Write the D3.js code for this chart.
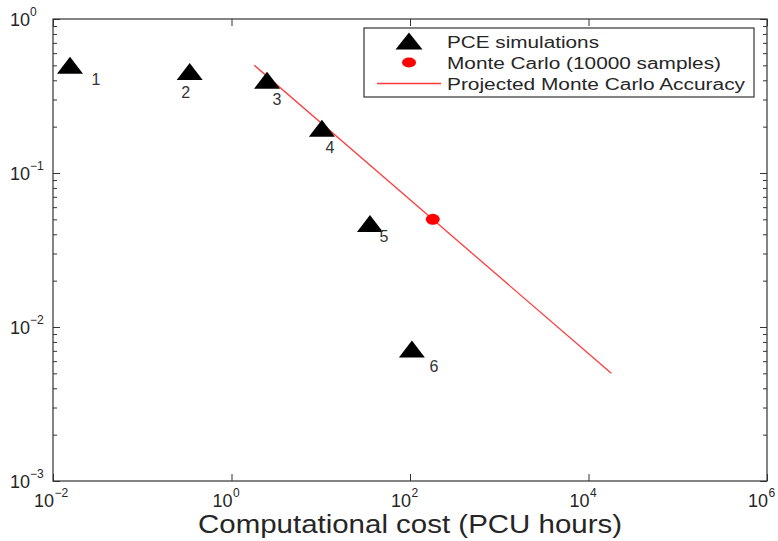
<!DOCTYPE html>
<html>
<head>
<meta charset="utf-8">
<script src="https://cdn.jsdelivr.net/npm/d3@7"></script>
<style>
  body { margin: 0; background: #fff; }
  svg { display: block; font-family: "Liberation Sans", Arial, Helvetica, sans-serif; }
</style>
</head>
<body>
<svg id="chart" width="778" height="541"></svg>
<script>
// PCE runs: cost (PCU hours) vs error
const pceLabels = ['1', '2', '3', '4', '5', '6'];
const pceCost = [0.0155, 0.34, 2.5, 10.3, 35.6, 105];
const pceError = [0.5, 0.456, 0.40, 0.195, 0.047, 0.0072];

// Monte Carlo reference point (10000 samples)
const mcCost = [180];
const mcError = [0.05];

// projected MC accuracy line end points
const projCost = [1.8, 18000];
const projError = [0.5, 0.005];

const xTicks = [1e-2, 1e0, 1e2, 1e4, 1e6];
const xTickExp = ['-2', '0', '2', '4', '6'];
const yTicks = [1e-3, 1e-2, 1e-1, 1e0];
const yTickExp = ['-3', '-2', '-1', '0'];

const legendLabels = ['PCE simulations', 'Monte Carlo (10000 samples)', 'Projected Monte Carlo Accuracy'];
const xTitle = 'Computational cost (PCU hours)';

const margin = {top: 19, right: 11, bottom: 60, left: 53};
const W = 778, H = 541;
const ink = '#262626';

const svg = d3.select('#chart');

const x = d3.scaleLog().domain([1e-2, 1e6]).range([margin.left, W - margin.right]);
const y = d3.scaleLog().domain([1e-3, 1]).range([H - margin.bottom, margin.top]);

// frame
svg.append('rect')
  .attr('x', x.range()[0]).attr('y', y.range()[1])
  .attr('width', x.range()[1] - x.range()[0])
  .attr('height', y.range()[0] - y.range()[1])
  .attr('fill', 'none').attr('stroke', '#333').attr('stroke-width', 1.2);

// ticks, all inward like matlab
const minorY = y.ticks().filter(v => yTicks.indexOf(v) < 0);
function tickAxis(axis, tr) {
  const g = svg.append('g').attr('transform', tr).call(axis);
  g.select('.domain').remove();
  g.selectAll('text').remove();
  g.selectAll('line').attr('stroke', '#333');
  return g;
}
tickAxis(d3.axisBottom(x).tickValues(xTicks).tickSize(-7), `translate(0,${y.range()[0]})`);
tickAxis(d3.axisTop(x).tickValues(xTicks).tickSize(-7), `translate(0,${y.range()[1]})`);
tickAxis(d3.axisLeft(y).tickValues(yTicks).tickSize(-7), `translate(${x.range()[0]},0)`);
tickAxis(d3.axisRight(y).tickValues(yTicks).tickSize(-7), `translate(${x.range()[1]},0)`);
tickAxis(d3.axisLeft(y).tickValues(minorY).tickSize(-4), `translate(${x.range()[0]},0)`);
tickAxis(d3.axisRight(y).tickValues(minorY).tickSize(-4), `translate(${x.range()[1]},0)`);

// tick labels with superscripts ("10" ends at the tick, exponent after it)
xTicks.forEach((v, i) => {
  const base = y.range()[0] + 26;
  svg.append('text')
    .attr('x', x(v) + 1).attr('y', base)
    .attr('text-anchor', 'end').attr('fill', ink).attr('font-size', 18)
    .text('10');
  svg.append('text')
    .attr('x', x(v) + 1.5).attr('y', base - 10)
    .attr('fill', ink).attr('font-size', 12)
    .text(xTickExp[i].replace('-', '\u2212'));
});
yTicks.forEach((v, i) => {
  const t = svg.append('text')
    .attr('x', margin.left - 43).attr('y', y(v) + 7)
    .attr('fill', ink).attr('font-size', 18);
  t.append('tspan').text('10');
  t.append('tspan').attr('dy', -10).attr('font-size', 12).text(yTickExp[i].replace('-', '\u2212'));
});

// axis title
svg.append('text')
  .attr('x', (x.range()[0] + x.range()[1]) / 2).attr('y', H - 8)
  .attr('text-anchor', 'middle').attr('fill', ink).attr('font-size', 25)
  .attr('textLength', 424).attr('lengthAdjust', 'spacingAndGlyphs')
  .text(xTitle);

// projected line
const line = d3.line().x(d => x(d[0])).y(d => y(d[1]));
svg.append('path')
  .datum(d3.zip(projCost, projError))
  .attr('d', line)
  .attr('fill', 'none').attr('stroke', '#ff3b3b').attr('stroke-width', 1.3);

// triangles
const tri = (w, h) => `M0,${-h / 2}L${w / 2},${h / 2}L${-w / 2},${h / 2}Z`;
const pce = d3.zip(pceCost, pceError, pceLabels);
svg.append('g').selectAll('path')
  .data(pce).join('path')
  .attr('d', tri(26, 17))
  .attr('transform', d => `translate(${x(d[0])},${y(d[1])})`)
  .attr('fill', '#000');

// point labels, offsets in px from marker
const labelOff = [[26, 14], [-4, 20], [10, 19], [8, 19], [14, 13], [22, 17]];
svg.append('g').selectAll('text')
  .data(pce).join('text')
  .attr('x', (d, i) => x(d[0]) + labelOff[i][0])
  .attr('y', (d, i) => y(d[1]) + labelOff[i][1] + 6)
  .attr('text-anchor', 'middle').attr('font-size', 16).attr('fill', '#333')
  .text(d => d[2]);

// monte carlo dot
svg.append('g').selectAll('ellipse')
  .data(d3.zip(mcCost, mcError)).join('ellipse')
  .attr('cx', d => x(d[0])).attr('cy', d => y(d[1]))
  .attr('rx', 7).attr('ry', 5.5).attr('fill', '#ff0000');

// legend
const lg = svg.append('g').attr('transform', 'translate(364,28)');
lg.append('rect').attr('width', 390).attr('height', 69)
  .attr('fill', '#fff').attr('stroke', '#333').attr('stroke-width', 1.2);
const rowY = [13, 34.5, 55.5];
const textW = [152, 274, 298];
lg.append('path').attr('d', tri(27, 17)).attr('transform', `translate(45,${rowY[0]})`).attr('fill', '#000');
lg.append('ellipse').attr('cx', 45).attr('cy', rowY[1]).attr('rx', 7).attr('ry', 5).attr('fill', '#ff0000');
lg.append('line').attr('x1', 13).attr('x2', 77).attr('y1', rowY[2]).attr('y2', rowY[2])
  .attr('stroke', '#ff3b3b').attr('stroke-width', 1.3);
lg.selectAll('text.lab')
  .data(legendLabels).join('text')
  .attr('class', 'lab')
  .attr('x', 83).attr('y', (d, i) => rowY[i] + 6.5)
  .attr('font-size', 16).attr('fill', ink)
  .attr('textLength', (d, i) => textW[i]).attr('lengthAdjust', 'spacingAndGlyphs')
  .text(d => d);
</script>
</body>
</html>
